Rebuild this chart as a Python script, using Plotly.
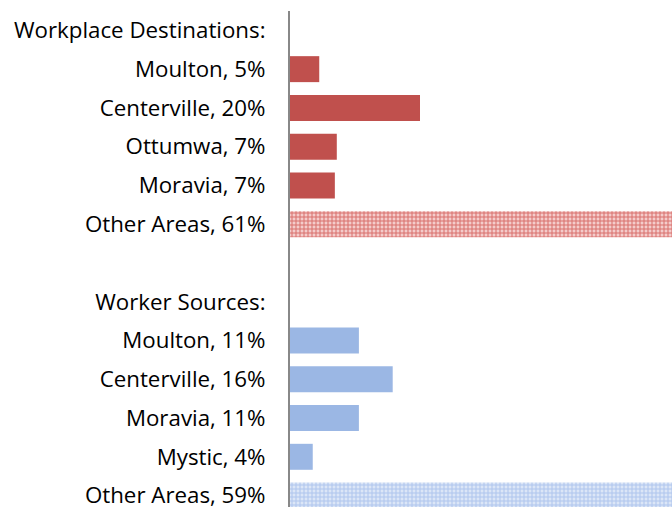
import plotly.graph_objects as go

# Data
dest_header = "Workplace Destinations:"
dest_labels = ["Moulton, 5%", "Centerville, 20%", "Ottumwa, 7%", "Moravia, 7%", "Other Areas, 61%"]
dest_values = [4.5, 20.0, 7.2, 6.9, 61.0]

src_header = "Worker Sources:"
src_labels = ["Moulton, 11%", "Centerville, 16%", "Moravia, 11%", "Mystic, 4%", "Other Areas, 59%"]
src_values = [10.6, 15.8, 10.6, 3.5, 59.0]

ticktext = [dest_header] + dest_labels + [""] + [src_header] + src_labels
dest_pos = list(range(1, 6))
src_pos = list(range(8, 13))

RED = "#C0504D"
BLUE = "#9BB7E4"
bw = 0.67

fig = go.Figure()
fig.add_trace(go.Bar(x=dest_values[:4], y=dest_pos[:4], orientation="h", width=bw,
                     marker=dict(color=RED, line=dict(width=0))))
fig.add_trace(go.Bar(x=dest_values[4:], y=dest_pos[4:], orientation="h", width=bw,
                     marker=dict(color="white", line=dict(width=0),
                                 pattern=dict(shape="+", fgcolor="#D9706D", bgcolor="#F4CCCB",
                                              size=4, solidity=0.45, fillmode="replace"))))
fig.add_trace(go.Bar(x=src_values[:4], y=src_pos[:4], orientation="h", width=bw,
                     marker=dict(color=BLUE, line=dict(width=0))))
fig.add_trace(go.Bar(x=src_values[4:], y=src_pos[4:], orientation="h", width=bw,
                     marker=dict(color="white", line=dict(width=0),
                                 pattern=dict(shape="+", fgcolor="#AFC6EE", bgcolor="#DCE6F7",
                                              size=4, solidity=0.45, fillmode="replace"))))

fig.update_layout(
    width=672, height=510,
    margin=dict(l=290, r=0, t=11, b=0),
    paper_bgcolor="white", plot_bgcolor="white",
    showlegend=False, barmode="overlay",
    font=dict(family="Open Sans, Lato, sans-serif", size=22.3, color="#000000"),
)
fig.update_xaxes(range=[0, 58.77], showgrid=False, zeroline=False, showline=False,
                 showticklabels=False, ticks="")
fig.update_yaxes(range=[12.295, -0.5], tickmode="array", tickvals=list(range(13)),
                 ticktext=ticktext, showgrid=False, zeroline=False, showline=True,
                 linecolor="#888888", linewidth=2, ticks="", ticklabelstandoff=18,
                 ticklabeloverflow="allow")

fig.write_html("out.html", config={"displayModeBar": False},
               post_script="document.body.style.margin='0';document.body.style.overflow='hidden';")
